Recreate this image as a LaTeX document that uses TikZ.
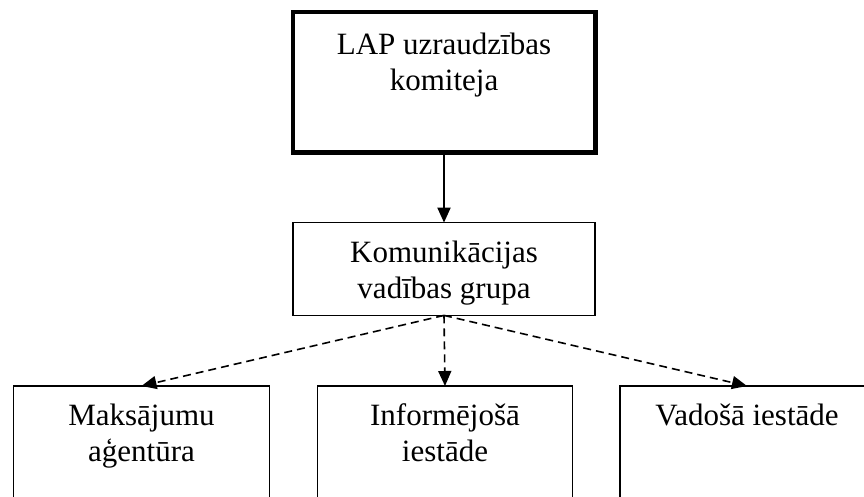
\documentclass[tikz,border=0pt]{standalone}
\usepackage{fontspec}
\setmainfont{Liberation Serif}
\usetikzlibrary{arrows.meta}

\newcommand{\boxtext}[4]{\parbox[c][#2pt][t]{#1pt}{\centering\rule{0pt}{#3pt}#4}}

\tikzset{
  unit/.style={draw, line width=1.3pt, inner sep=0pt, outer sep=0pt, anchor=north,
    font=\fontsize{31pt}{35.5pt}\selectfont},
  link/.style={line width=2pt, -{Triangle[length=15pt, width=13pt]}},
  dlink/.style={line width=1.6pt, dash pattern=on 8pt off 5pt, -{Triangle[length=15pt, width=13pt]}}
}

\begin{document}
\begin{tikzpicture}[x=1pt, y=-1pt]
  \clip (0,0) rectangle (864,497);

  % Boxes
  \node[unit, line width=4.5pt] (lap) at (444,12.25) {\boxtext{302.5}{140.5}{42.5}{LAP uzraudzības\\komiteja}};
  \node[unit] (kvg) at (444,222.6) {\boxtext{302}{92.8}{40}{Komunikācijas\\vadības grupa}};
  \node[unit] (ma) at (141.5,386) {\boxtext{256}{130}{39.5}{Maksājumu\\aģentūra}};
  \node[unit] (ii) at (445,386) {\boxtext{255}{130}{39.5}{Informējošā\\iestāde}};
  \node[unit] (vi) at (747,386) {\boxtext{254}{130}{39.5}{Vadošā iestāde}};

  % Arrows
  \draw[link] (lap.south) -- (kvg.north);
  \draw[dlink] (kvg.south) -- (ma.north);
  \draw[dlink] (kvg.south) -- (ii.north);
  \draw[dlink] (kvg.south) -- (vi.north);
\end{tikzpicture}
\end{document}
